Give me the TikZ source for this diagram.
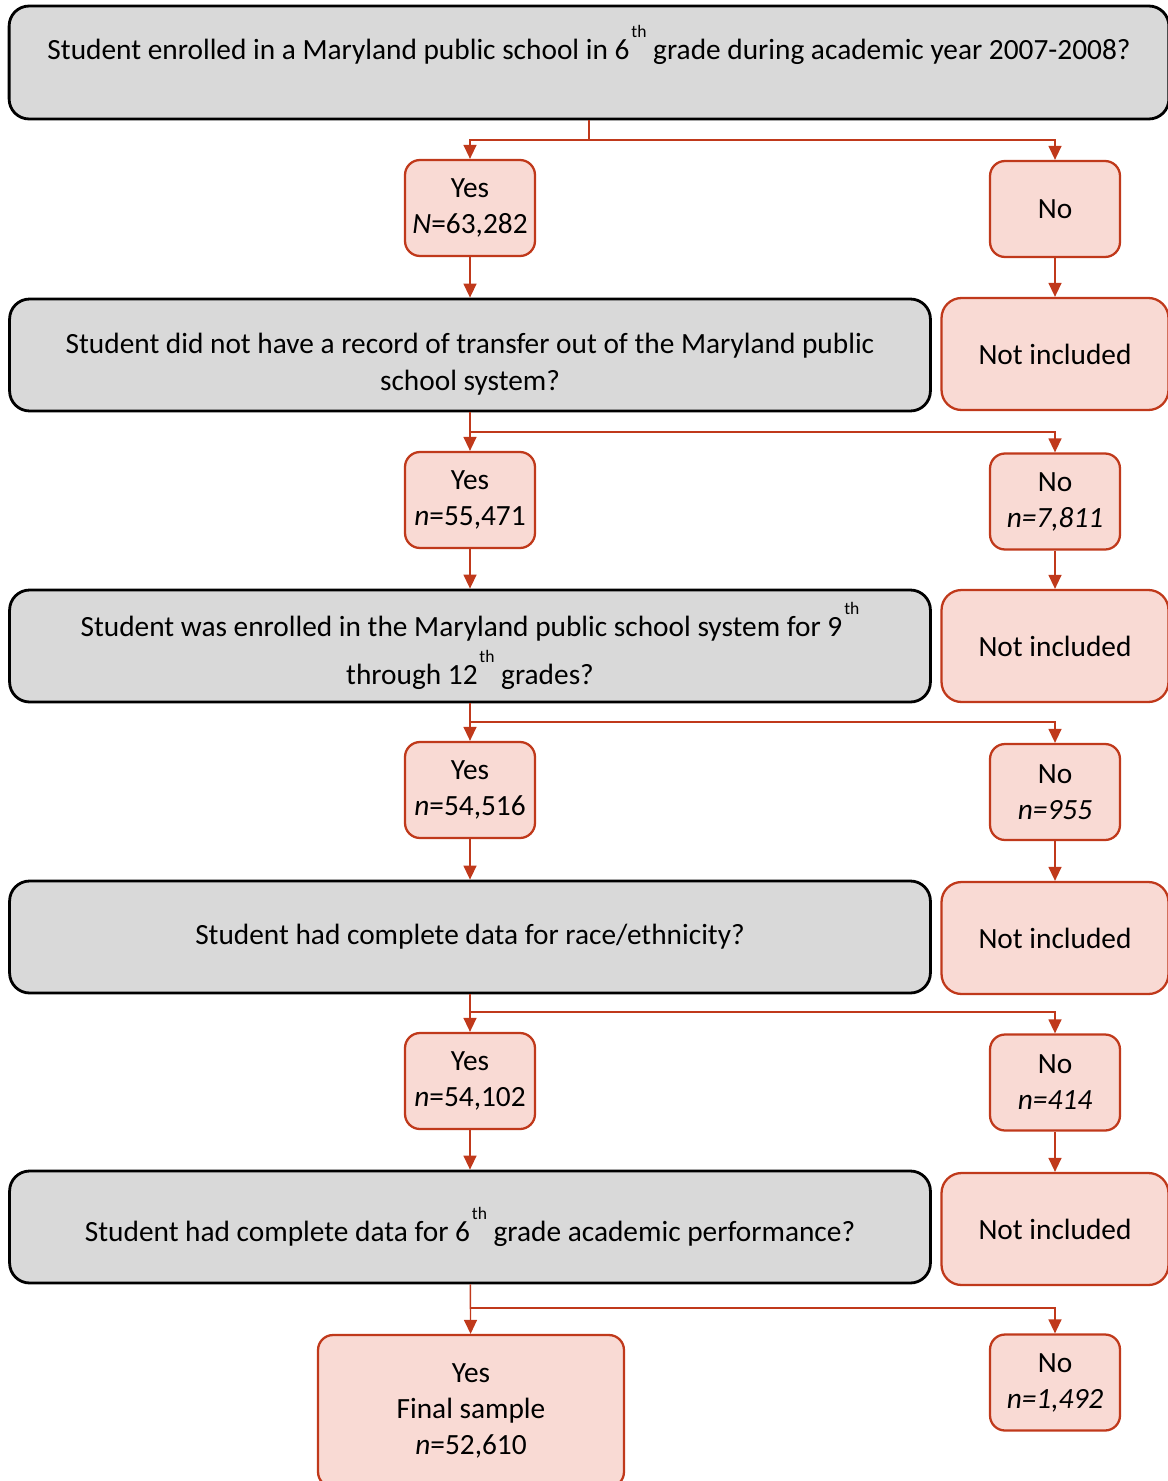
\documentclass[tikz,border=0pt]{standalone}
\usepackage{fontspec}
\setmainfont{Carlito}
\usepackage{tikz}
\usetikzlibrary{arrows.meta}

\definecolor{flowred}{RGB}{192,57,27}
\definecolor{flowpink}{RGB}{249,218,212}
\definecolor{flowgray}{RGB}{217,217,217}

\newcommand{\ordth}{\kern1pt\raisebox{12.5pt}{\fontsize{10}{10}\selectfont th}}

\begin{document}
\begin{tikzpicture}[x=0.02cm,y=-0.02cm,
  font=\fontsize{16.7}{20.5}\selectfont,
  question/.style={draw=black, line width=1.6pt, fill=flowgray, rounded corners=0.4cm,
    minimum width=#1, minimum height=2.24cm, align=center, inner sep=0pt},
  answer/.style={draw=flowred, line width=1.3pt, fill=flowpink, rounded corners=0.3cm,
    minimum width=2.6cm, minimum height=1.92cm, align=center, inner sep=0pt},
  excluded/.style={answer, minimum width=4.54cm, minimum height=2.24cm, rounded corners=0.4cm},
  wire/.style={draw=flowred, line width=0.8pt},
  link/.style={wire, -{Triangle[length=0.28cm,width=0.26cm]}}]
 \useasboundingbox (0,0) rectangle (1168,1481);

 % questions
 \node[question=23.2cm, minimum height=2.26cm] (q1) at (589,62.5)
   {Student enrolled in a Maryland public school in 6\ordth{} grade during academic year 2007-2008?\\[2pt]\mbox{}};
 \node[question=18.42cm] (q2) at (470,355)
   {\rule{0pt}{22pt}Student did not have a record of transfer out of the Maryland public\\[1pt]school system?};
 \node[question=18.42cm] (q3) at (470,646)
   {Student was enrolled in the Maryland public school system for 9\ordth\\[4pt]through 12\ordth{} grades?};
 \node[question=18.42cm] (q4) at (470,937) {Student had complete data for race/ethnicity?};
 \node[question=18.42cm] (q5) at (470,1227)
   {Student had complete data for 6\ordth{} grade academic performance?};

 % yes branch
 \node[answer] (y1) at (470,208) {Yes\\\textit{N}=63,282};
 \node[answer] (y2) at (470,500) {Yes\\\textit{n}=55,471};
 \node[answer] (y3) at (470,790) {Yes\\\textit{n}=54,516};
 \node[answer] (y4) at (470,1081) {Yes\\\textit{n}=54,102};
 \node[answer, minimum width=6.12cm, minimum height=3.04cm] (y5) at (471,1411)
   {Yes\\Final sample\\\textit{n}=52,610};

 % no branch
 \node[answer] (n1) at (1055,209) {No};
 \node[answer] (n2) at (1055,501.5) {No\\\textit{n=7,811}};
 \node[answer] (n3) at (1055,792) {No\\\textit{n=955}};
 \node[answer] (n4) at (1055,1082.5) {No\\\textit{n=414}};
 \node[answer] (n5) at (1055,1382.5) {No\\\textit{n=1,492}};

 \node[excluded] (x1) at (1055,354) {Not included};
 \node[excluded] (x2) at (1055,646) {Not included};
 \node[excluded] (x3) at (1055,938) {Not included};
 \node[excluded] (x4) at (1055,1229) {Not included};

 % split points
 \coordinate (s1) at (589,140);
 \coordinate (s2) at (470,432);
 \coordinate (s3) at (470,722);
 \coordinate (s4) at (470,1012);
 \coordinate (s5) at (470,1308);

 \draw[wire] (q1.south) -- (s1);
 \draw[link] (s1) -| (y1.north);
 \draw[link] (s1) -| (n1.north);

 \draw[link] (y1) -- (q2);
 \draw[link] (n1) -- (x1);
 \draw[link] (q2) -- (y2);
 \draw[link] (s2) -| (n2.north);

 \draw[link] (y2) -- (q3);
 \draw[link] (n2) -- (x2);
 \draw[link] (q3) -- (y3);
 \draw[link] (s3) -| (n3.north);

 \draw[link] (y3) -- (q4);
 \draw[link] (n3) -- (x3);
 \draw[link] (q4) -- (y4);
 \draw[link] (s4) -| (n4.north);

 \draw[link] (y4) -- (q5);
 \draw[link] (n4) -- (x4);
 \draw[link] (q5) -- (y5);
 \draw[link] (s5) -| (n5.north);
\end{tikzpicture}
\end{document}
